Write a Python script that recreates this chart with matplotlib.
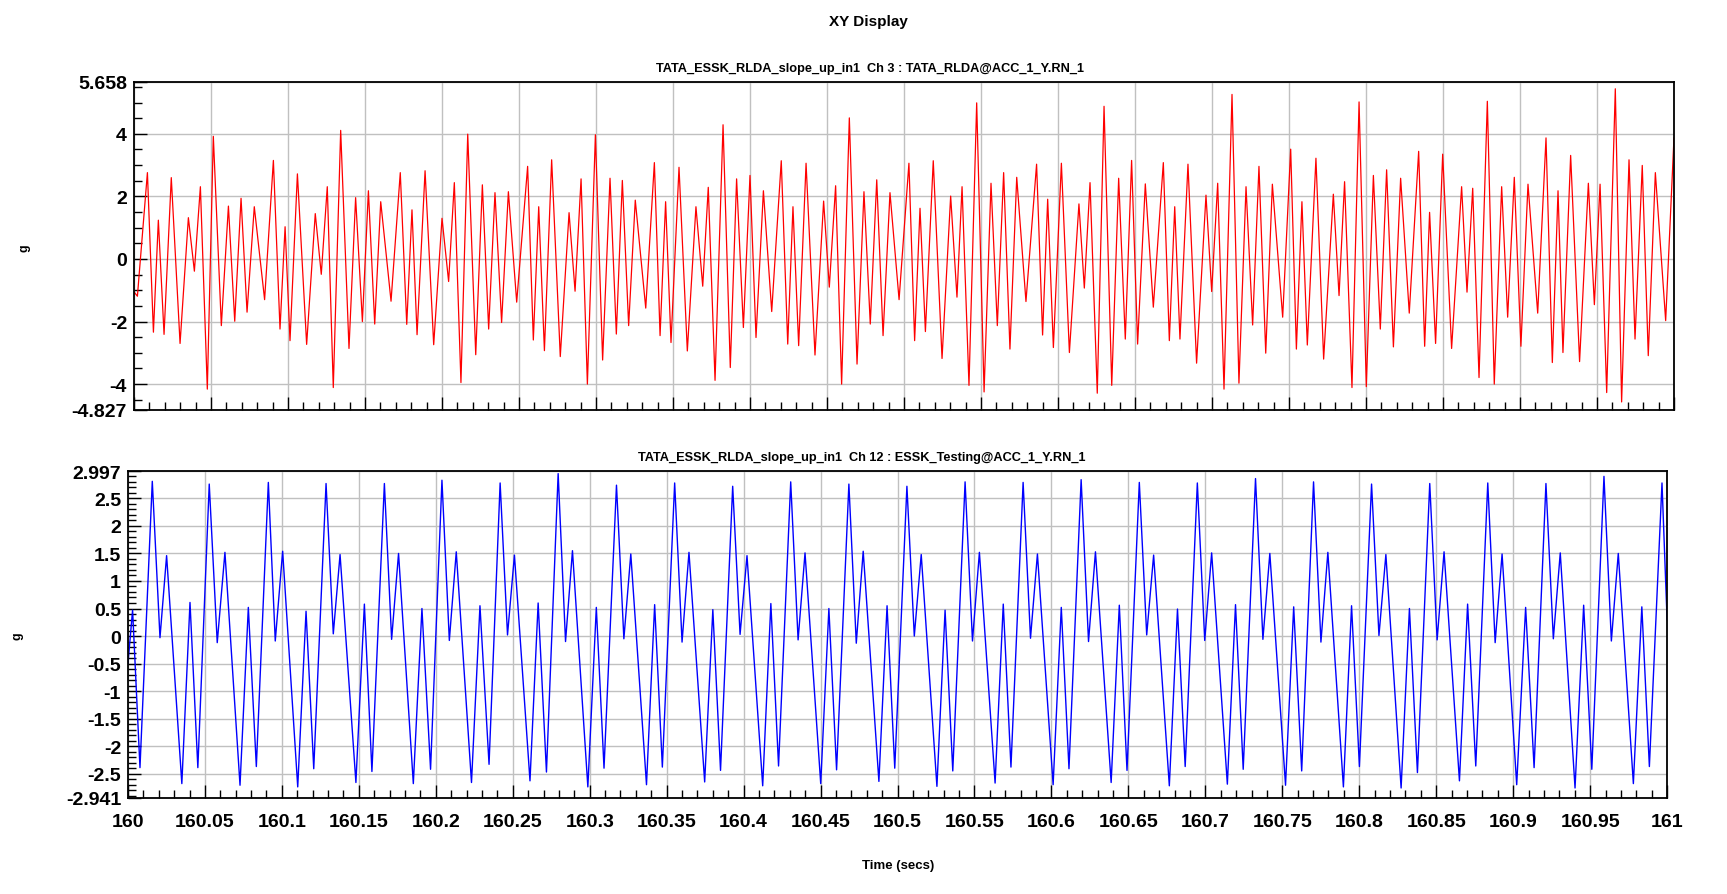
import matplotlib
matplotlib.use("Agg")
import matplotlib.pyplot as plt
from matplotlib.ticker import MultipleLocator

# ---------------- data ----------------
# Ch 3 (red): extrema, time in ms after 160 s, value in g
red_t_ms = [0.0, 2.2, 8.7, 12.6, 15.8, 19.5, 24.2, 29.9, 35.3, 39.2, 43.1, 47.6, 51.5, 56.7, 61.3, 65.4,
            69.5, 73.4, 78.1, 84.8, 90.5, 94.8, 98.1, 101.3, 106.1, 112.1, 117.7, 121.6, 125.5, 129.4,
            134.2, 139.6, 143.9, 148.3, 152.2, 156.3, 160.2, 166.9, 172.9, 177.1, 180.5, 183.8, 189.0,
            194.6, 200.0, 204.3, 208.0, 212.3, 216.7, 221.9, 226.2, 230.3, 234.4, 238.7, 243.1, 248.5,
            255.6, 259.3, 262.8, 266.5, 271.2, 276.8, 282.5, 286.4, 290.3, 294.4, 299.6, 304.3, 309.1,
            313.2, 317.1, 321.2, 325.5, 332.3, 337.9, 341.6, 345.2, 348.7, 353.9, 359.3, 364.9, 369.3,
            372.9, 377.3, 382.5, 387.2, 391.3, 395.7, 400.0, 403.9, 408.7, 414.1, 420.3, 424.5, 427.9,
            431.6, 436.4, 442.2, 447.8, 451.5, 455.6, 459.5, 464.5, 469.5, 474.0, 478.1, 482.3, 486.4,
            490.9, 496.8, 503.2, 506.9, 510.4, 513.9, 519.0, 524.7, 530.3, 534.4, 537.7, 542.2, 547.2,
            552.0, 556.5, 560.6, 564.7, 568.8, 573.2, 579.2, 586.1, 590.0, 593.3, 597.0, 602.2, 607.4,
            613.6, 617.1, 620.8, 625.5, 629.9, 634.9, 639.4, 643.7, 647.8, 651.7, 656.7, 661.9, 668.4,
            672.3, 675.8, 679.2, 684.4, 690.0, 696.1, 699.8, 703.7, 707.8, 713.0, 717.5, 722.1, 726.4,
            730.5, 734.9, 739.2, 745.9, 751.1, 754.8, 758.4, 761.9, 767.5, 772.5, 778.8, 782.5, 786.1,
            790.9, 795.5, 800.2, 804.8, 809.3, 813.4, 817.8, 822.5, 828.1, 834.2, 838.1, 841.3, 845.2,
            849.8, 855.6, 862.1, 865.6, 869.3, 873.4, 878.8, 883.3, 888.1, 892.0, 896.3, 900.6, 905.2,
            911.5, 916.9, 921.0, 924.7, 927.9, 932.9, 938.7, 944.4, 948.3, 952.0, 956.3, 961.9, 966.0,
            970.8, 974.7, 979.4, 983.3, 987.9, 994.6, 1000.0]
red_g = [-1.05, -1.19, 2.76, -2.34, 1.24, -2.41, 2.60, -2.70, 1.32, -0.39, 2.31, -4.16, 3.92, -2.13, 1.69, -1.99,
         1.94, -1.70, 1.67, -1.30, 3.15, -2.24, 1.03, -2.61, 2.72, -2.73, 1.45, -0.49, 2.31, -4.11,
         4.11, -2.86, 1.96, -2.00, 2.18, -2.08, 1.83, -1.35, 2.76, -2.09, 1.57, -2.42, 2.82,
         -2.74, 1.30, -0.72, 2.44, -3.95, 3.99, -3.06, 2.37, -2.24, 2.12, -2.03, 2.15, -1.38,
         2.96, -2.59, 1.67, -2.93, 3.17, -3.12, 1.48, -1.03, 2.56, -4.00, 3.97, -3.23, 2.58,
         -2.40, 2.51, -2.13, 1.88, -1.57, 3.08, -2.45, 1.83, -2.67, 2.93, -2.94, 1.67, -0.87,
         2.29, -3.88, 4.29, -3.47, 2.56, -2.19, 2.67, -2.51, 2.18, -1.68, 3.14, -2.72, 1.67,
         -2.77, 3.06, -3.07, 1.85, -0.90, 2.34, -4.00, 4.51, -3.36, 2.15, -2.08, 2.53, -2.45,
         2.12, -1.30, 3.06, -2.61, 1.62, -2.32, 3.14, -3.18, 2.01, -1.22, 2.31, -4.04, 4.99,
         -4.25, 2.42, -2.13, 2.76, -2.88, 2.61, -1.36, 3.03, -2.43, 1.91, -2.83, 3.06, -2.99,
         1.76, -0.93, 2.44, -4.29, 4.88, -4.04, 2.58, -2.56, 3.15, -2.72, 2.40, -1.54, 3.08,
         -2.61, 1.67, -2.56, 3.03, -3.33, 2.04, -1.04, 2.42, -4.16, 5.26, -3.97, 2.31, -2.11,
         2.96, -3.01, 2.39, -1.86, 3.51, -2.88, 1.83, -2.75, 3.22, -3.20, 2.07, -1.17, 2.47,
         -4.11, 5.02, -4.08, 2.67, -2.24, 2.85, -2.81, 2.58, -1.73, 3.44, -2.79, 1.49, -2.70,
         3.35, -2.86, 2.31, -1.06, 2.26, -3.79, 5.04, -4.00, 2.31, -1.86, 2.61, -2.79, 2.39,
         -1.73, 3.87, -3.31, 2.18, -2.99, 3.31, -3.28, 2.42, -1.46, 2.39, -4.27, 5.44, -4.57,
         3.17, -2.56, 2.99, -3.09, 2.76, -1.97, 3.87]

# Ch 12 (blue): extrema, time in s after 160 s, value in g
blue_t = [0.0000, 0.0030, 0.0078,
          0.0158, 0.0208, 0.0251, 0.0350, 0.0403, 0.0454,
          0.0528, 0.0580, 0.0630, 0.0728, 0.0782, 0.0834,
          0.0912, 0.0957, 0.1005, 0.1103, 0.1157, 0.1207,
          0.1287, 0.1334, 0.1378, 0.1481, 0.1536, 0.1585,
          0.1666, 0.1713, 0.1758, 0.1854, 0.1910, 0.1966,
          0.2040, 0.2088, 0.2133, 0.2232, 0.2287, 0.2346,
          0.2418, 0.2466, 0.2511, 0.2612, 0.2665, 0.2719,
          0.2795, 0.2843, 0.2888, 0.2988, 0.3043, 0.3093,
          0.3174, 0.3222, 0.3267, 0.3369, 0.3422, 0.3472,
          0.3552, 0.3600, 0.3645, 0.3747, 0.3800, 0.3850,
          0.3929, 0.3977, 0.4022, 0.4124, 0.4177, 0.4227,
          0.4306, 0.4354, 0.4399, 0.4501, 0.4554, 0.4604,
          0.4684, 0.4732, 0.4777, 0.4879, 0.4932, 0.4982,
          0.5061, 0.5109, 0.5154, 0.5256, 0.5309, 0.5359,
          0.5439, 0.5487, 0.5532, 0.5634, 0.5687, 0.5737,
          0.5816, 0.5864, 0.5909, 0.6011, 0.6064, 0.6114,
          0.6193, 0.6241, 0.6286, 0.6388, 0.6441, 0.6491,
          0.6571, 0.6619, 0.6664, 0.6766, 0.6819, 0.6869,
          0.6948, 0.6996, 0.7041, 0.7143, 0.7196, 0.7246,
          0.7326, 0.7374, 0.7419, 0.7521, 0.7574, 0.7626,
          0.7703, 0.7751, 0.7796, 0.7897, 0.7950, 0.8001,
          0.8080, 0.8128, 0.8173, 0.8272, 0.8326, 0.8378,
          0.8458, 0.8506, 0.8551, 0.8651, 0.8704, 0.8757,
          0.8835, 0.8883, 0.8928, 0.9023, 0.9081, 0.9136,
          0.9213, 0.9261, 0.9306, 0.9402, 0.9458, 0.9511,
          0.9590, 0.9638, 0.9683, 0.9781, 0.9836, 0.9885,
          0.9967, 1.0000]
blue_g = [-0.50, 0.47, -2.39,
          2.81, -0.03, 1.46, -2.68, 0.61, -2.39,
          2.76, -0.12, 1.52, -2.71, 0.52, -2.37,
          2.79, -0.09, 1.54, -2.74, 0.45, -2.41,
          2.77, 0.04, 1.48, -2.66, 0.58, -2.46,
          2.77, -0.06, 1.50, -2.68, 0.50, -2.42,
          2.83, -0.08, 1.53, -2.66, 0.55, -2.33,
          2.78, 0.02, 1.47, -2.63, 0.60, -2.47,
          2.95, -0.10, 1.55, -2.74, 0.52, -2.40,
          2.74, -0.05, 1.49, -2.70, 0.57, -2.38,
          2.78, -0.11, 1.52, -2.65, 0.48, -2.44,
          2.72, 0.03, 1.46, -2.72, 0.59, -2.36,
          2.80, -0.07, 1.51, -2.68, 0.50, -2.43,
          2.76, -0.13, 1.54, -2.64, 0.55, -2.40,
          2.72, 0.00, 1.48, -2.73, 0.47, -2.45,
          2.80, -0.09, 1.52, -2.67, 0.58, -2.38,
          2.79, -0.04, 1.49, -2.70, 0.52, -2.41,
          2.84, -0.10, 1.53, -2.66, 0.56, -2.44,
          2.79, 0.02, 1.47, -2.72, 0.49, -2.37,
          2.78, -0.08, 1.51, -2.69, 0.57, -2.42,
          2.86, -0.06, 1.50, -2.71, 0.53, -2.45,
          2.80, -0.11, 1.52, -2.74, 0.55, -2.37,
          2.76, 0.01, 1.48, -2.76, 0.50, -2.48,
          2.77, -0.07, 1.53, -2.63, 0.58, -2.36,
          2.78, -0.12, 1.49, -2.70, 0.52, -2.39,
          2.77, -0.05, 1.51, -2.76, 0.56, -2.42,
          2.90, -0.09, 1.50, -2.68, 0.53, -2.37,
          2.78, 0.30]

top_ylim = (-4.827, 5.658)
bot_ylim = (-2.941, 2.997)
top_yticks = [-4.827, -4, -2, 0, 2, 4, 5.658]
top_ylabels = ["-4.827", "-4", "-2", "0", "2", "4", "5.658"]
bot_yticks = [-2.941, -2.5, -2, -1.5, -1, -0.5, 0, 0.5, 1, 1.5, 2, 2.5, 2.997]
bot_ylabels = ["-2.941", "-2.5", "-2", "-1.5", "-1", "-0.5", "0", "0.5", "1", "1.5", "2", "2.5", "2.997"]
xticks = [160.0, 160.05, 160.1, 160.15, 160.2, 160.25, 160.3, 160.35, 160.4, 160.45, 160.5,
          160.55, 160.6, 160.65, 160.7, 160.75, 160.8, 160.85, 160.9, 160.95, 161.0]
xlabels = ["160", "160.05", "160.1", "160.15", "160.2", "160.25", "160.3", "160.35", "160.4", "160.45",
           "160.5", "160.55", "160.6", "160.65", "160.7", "160.75", "160.8", "160.85", "160.9", "160.95", "161"]

title_top = "TATA_ESSK_RLDA_slope_up_in1  Ch 3 : TATA_RLDA@ACC_1_Y.RN_1"
title_bot = "TATA_ESSK_RLDA_slope_up_in1  Ch 12 : ESSK_Testing@ACC_1_Y.RN_1"

# ---------------- figure ----------------
plt.rcParams['font.family'] = ['Liberation Sans', 'DejaVu Sans']
fig = plt.figure(figsize=(17.27, 8.95), dpi=100)
ax1 = fig.add_axes([0.0776, 0.5408, 0.8917, 0.3665])
ax2 = fig.add_axes([0.0741, 0.1073, 0.8912, 0.3653])

red_x = [160 + t / 1000.0 for t in red_t_ms]
blue_x = [160 + t for t in blue_t]
ax1.plot(red_x, red_g, color='#ff0000', lw=0.9)
ax2.plot(blue_x, blue_g, color='#0000ff', lw=1.0)

grid_col = '#c0c0c0'
for ax, yl, yt, ylab, ymin in [(ax1, top_ylim, top_yticks, top_ylabels, 0.5),
                               (ax2, bot_ylim, bot_yticks, bot_ylabels, 0.1)]:
    ax.set_xlim(160, 161)
    ax.set_ylim(*yl)
    ax.set_yticks(yt)
    ax.set_yticklabels(ylab, fontsize=14, fontweight='bold')
    ax.yaxis.set_minor_locator(MultipleLocator(ymin))
    ax.set_xticks(xticks)
    ax.xaxis.set_minor_locator(MultipleLocator(0.01))
    ax.tick_params(axis='both', which='major', direction='in', length=9.5, width=1.0, color='black')
    ax.tick_params(axis='both', which='minor', direction='in', length=5.5, width=1.0, color='black')
    ax.tick_params(axis='y', which='major', pad=5)
    ax.tick_params(top=False, right=False)
    ax.grid(True, which='major', color=grid_col, lw=1.0)
    ax.set_axisbelow(True)
    for s in ax.spines.values():
        s.set_linewidth(1.3)
        s.set_color('black')

ax1.set_xticklabels([])
ax2.set_xticklabels(xlabels, fontsize=14, fontweight='bold')
ax2.tick_params(axis='x', which='major', pad=11)

fig.text(0.503, 0.9754, "XY Display", ha='center', va='center', fontsize=11, fontweight='bold')
t1 = fig.text(0.5035, 0.9225, title_top, ha='center', va='center', fontsize=9.5, fontweight='bold')
t2 = fig.text(0.499, 0.4883, title_bot, ha='center', va='center', fontsize=9.5, fontweight='bold')
fig.text(0.5198, 0.0327, "Time (secs)", ha='center', va='center', fontsize=9.5, fontweight='bold')
fig.text(0.0139, 0.723, "g", ha='center', va='center', fontsize=9, fontweight='bold', rotation=90)
fig.text(0.0102, 0.2887, "g", ha='center', va='center', fontsize=9, fontweight='bold', rotation=90)

# fit subplot title widths to the reference (about 430 and 450 px)
fig.canvas.draw()
r = fig.canvas.get_renderer()
for t, w in [(t1, 430.0), (t2, 450.0)]:
    cur = t.get_window_extent(r).width
    t.set_fontsize(t.get_fontsize() * w / cur)

fig.savefig("out.png", dpi=100)
